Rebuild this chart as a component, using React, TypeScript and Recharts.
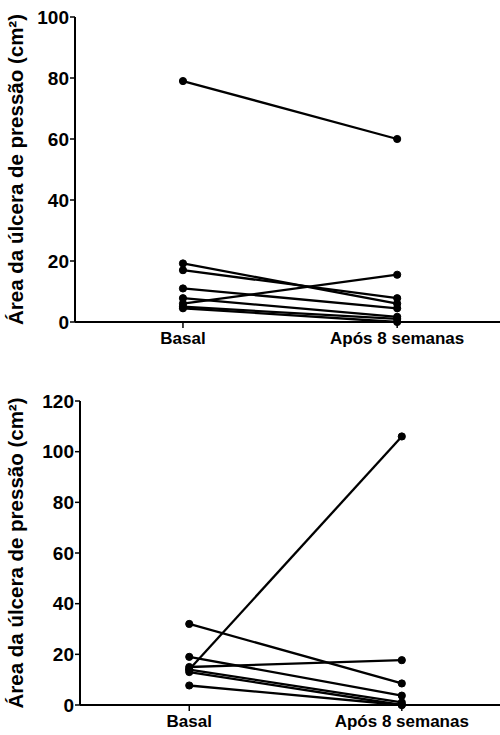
import React from "react";
import { LineChart, Line, XAxis, YAxis } from "recharts";

const categories = ["Basal", "Após 8 semanas"];
const yLabel = "Área da úlcera de pressão (cm²)";

// top panel: one line per patient
const topBasal = [79, 19.2, 17, 11, 6, 7.8, 4.5, 5];
const topAfter = [60, 6, 7.8, 4.5, 15.5, 1.7, 0, 1];
const topTicks = [0, 20, 40, 60, 80, 100];

// bottom panel
const bottomBasal = [14, 32, 19, 15, 14, 13, 7.7];
const bottomAfter = [106, 8.5, 3.7, 17.7, 1, 0, 0];
const bottomTicks = [0, 20, 40, 60, 80, 100, 120];

const font = "'Liberation Sans', Arial, sans-serif";

const buildRows = (before: number[], after: number[]) =>
  [before, after].map((vals, i) => {
    const row: Record<string, number> = { x: i };
    vals.forEach((v, k) => (row[`p${k}`] = v));
    return row;
  });

type PanelProps = {
  before: number[];
  after: number[];
  ticks: number[];
  height: number;
  top: number;
  axisWidth: number;
  xAxisHeight: number;
  domainX: [number, number];
};

const Panel: React.FC<PanelProps> = ({ before, after, ticks, height, top, axisWidth, xAxisHeight, domainX }) => {
  const rows = buildRows(before, after);
  const xTick = { fill: "#000", fontSize: 17, fontWeight: 700, fontFamily: font };
  const yTick = { fill: "#000", fontSize: 19, fontWeight: 700, fontFamily: font };
  return (
    <LineChart width={500} height={height} data={rows} margin={{ top, right: 0, left: 0, bottom: 0 }}>
      <XAxis
        dataKey="x"
        type="number"
        domain={domainX}
        ticks={[0, 1]}
        tickFormatter={(v) => categories[v]}
        tick={xTick}
        tickLine={{ stroke: "#000", strokeWidth: 1.5 }}
        tickSize={6}
        tickMargin={4}
        axisLine={{ stroke: "#000", strokeWidth: 2 }}
        height={xAxisHeight}
        allowDataOverflow
      />
      <YAxis
        type="number"
        domain={[0, ticks[ticks.length - 1]]}
        ticks={ticks}
        interval={0}
        width={axisWidth}
        tick={yTick}
        tickLine={{ stroke: "#000", strokeWidth: 1.5 }}
        tickSize={5}
        tickMargin={1}
        axisLine={{ stroke: "#000", strokeWidth: 2 }}
        label={(props: any) => {
          const vb = props.viewBox || {};
          const cy = (vb.y ?? top) + (vb.height ?? 0) / 2;
          return (
            <text
              x={15}
              y={cy}
              transform={`rotate(-90 15 ${cy})`}
              textAnchor="middle"
              dominantBaseline="central"
              fill="#000"
              fontSize={20.5}
              fontWeight={700}
              fontFamily={font}
            >
              {yLabel}
            </text>
          );
        }}
      />
      {before.map((_, k) => (
        <Line
          key={k}
          dataKey={`p${k}`}
          type="linear"
          stroke="#000"
          strokeWidth={2.3}
          dot={{ r: 3.6, fill: "#000", stroke: "#000", strokeWidth: 1 }}
          isAnimationActive={false}
        />
      ))}
    </LineChart>
  );
};

const App: React.FC = () => (
  <div style={{ position: "absolute", left: 0, top: 0, width: 500, height: 735, background: "#fff" }}>
    <div style={{ position: "absolute", left: 0, top: 0 }}>
      <Panel
        before={topBasal}
        after={topAfter}
        ticks={topTicks}
        height={360}
        top={17}
        axisWidth={75}
        xAxisHeight={38}
        domainX={[-0.504, 1.48]}
      />
    </div>
    <div style={{ position: "absolute", left: 0, top: 360 }}>
      <Panel
        before={bottomBasal}
        after={bottomAfter}
        ticks={bottomTicks}
        height={375}
        top={41}
        axisWidth={80}
        xAxisHeight={30}
        domainX={[-0.514, 1.462]}
      />
    </div>
  </div>
);

export default App;
